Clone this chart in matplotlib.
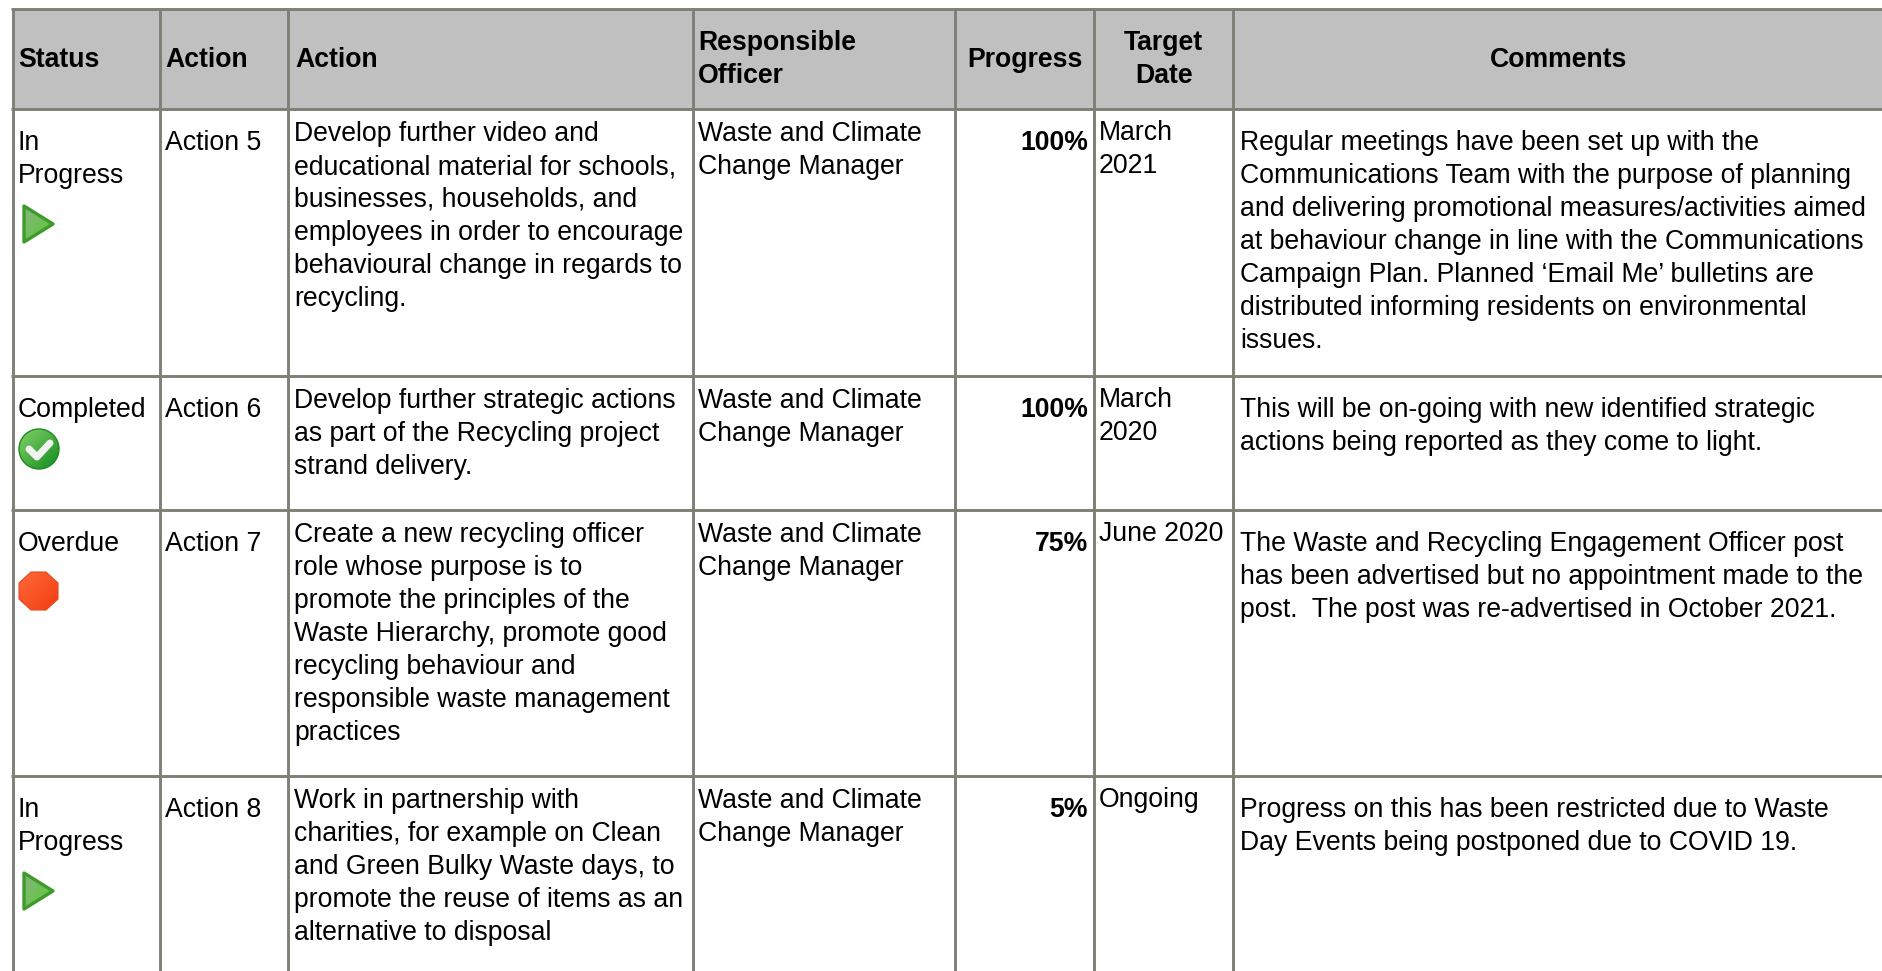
import numpy as np
import matplotlib
matplotlib.use('Agg')
import matplotlib.pyplot as plt
from matplotlib.patches import Polygon, Circle, Rectangle

plt.rcParams['font.family'] = ['Liberation Sans', 'DejaVu Sans']

W, H = 1883, 971
LINE = '#7f7f76'
HEAD = '#c0c0c0'
FS = 19.2
LH = 33

col_edges = [13, 160, 288, 693.5, 955, 1094, 1233.5, 1883]
row_edges = [9, 109, 376, 510, 776, 971]

statuses = [['In', 'Progress'], ['Completed'], ['Overdue'], ['In', 'Progress']]
icons = ['play', 'check', 'stop', 'play']
action_ids = ['Action 5', 'Action 6', 'Action 7', 'Action 8']
actions = [
    ['Develop further video and', 'educational material for schools,', 'businesses, households, and',
     'employees in order to encourage', 'behavioural change in regards to', 'recycling.'],
    ['Develop further strategic actions', 'as part of the Recycling project', 'strand delivery.'],
    ['Create a new recycling officer', 'role whose purpose is to', 'promote the principles of the',
     'Waste Hierarchy, promote good', 'recycling behaviour and', 'responsible waste management', 'practices'],
    ['Work in partnership with', 'charities, for example on Clean', 'and Green Bulky Waste days, to',
     'promote the reuse of items as an', 'alternative to disposal'],
]
officers = [['Waste and Climate', 'Change Manager']] * 4
progress = ['100%', '100%', '75%', '5%']
targets = [['March', '2021'], ['March', '2020'], ['June 2020'], ['Ongoing']]
comments = [
    ['Regular meetings have been set up with the', 'Communications Team with the purpose of planning',
     'and delivering promotional measures/activities aimed', 'at behaviour change in line with the Communications',
     'Campaign Plan. Planned \u2018Email Me\u2019 bulletins are', 'distributed informing residents on environmental', 'issues.'],
    ['This will be on-going with new identified strategic', 'actions being reported as they come to light.'],
    ['The Waste and Recycling Engagement Officer post', 'has been advertised but no appointment made to the',
     'post.  The post was re-advertised in October 2021.'],
    ['Progress on this has been restricted due to Waste', 'Day Events being postponed due to COVID 19.'],
]


def write(ax, x, y, lines, **kw):
    for i, s in enumerate(lines):
        ax.text(x, y + i * LH, s, fontsize=FS, fontweight=kw.get('weight', 'normal'),
                ha=kw.get('ha', 'left'), va='baseline', color='black')


def gradient(ax, patch, x0, x1, y0, y1, c0, c1):
    # diagonal fill, clipped to the patch
    n = 40
    t = np.add.outer(np.linspace(0, 1, n), np.linspace(0, 1, n)) / 2
    c0, c1 = np.array(matplotlib.colors.to_rgb(c0)), np.array(matplotlib.colors.to_rgb(c1))
    img = c0 + (c1 - c0) * t[..., None]
    im = ax.imshow(img, extent=(x0, x1, y1, y0), aspect='auto', zorder=4, interpolation='bilinear')
    im.set_clip_path(patch)


def draw_icon(ax, kind, y):
    if kind == 'play':
        tri = Polygon([(24, y + 2), (24, y + 38), (53, y + 20)], closed=True, fc='none',
                      ec='#3f9a2c', lw=2.4, joinstyle='round', zorder=5)
        ax.add_patch(tri)
        gradient(ax, tri, 22, 54, y, y + 40, '#8fb088', '#52cf2a')
    elif kind == 'check':
        c = Circle((39, y + 20), 20, fc='none', ec='#1d8a24', lw=1, zorder=5)
        ax.add_patch(c)
        gradient(ax, c, 19, 59, y, y + 40, '#86d468', '#0f8a1f')
        ax.plot([29, 37, 50], [y + 20, y + 28, y + 14], color='#f2f2f2', lw=5,
                solid_capstyle='round', solid_joinstyle='round', zorder=6)
    else:
        xs = np.array([31, 46, 58, 58, 46, 31, 19, 19])
        ys = np.array([0, 0, 11, 27, 38, 38, 27, 11]) + y
        o = Polygon(np.column_stack([xs, ys]), closed=True, fc='none', ec='#e04a20', lw=0.8,
                    joinstyle='round', zorder=5)
        ax.add_patch(o)
        gradient(ax, o, 19, 58, y, y + 38, '#ff6a3a', '#f23d10')


fig = plt.figure(figsize=(W / 100, H / 100), dpi=100)
ax = fig.add_axes([0, 0, 1, 1])
ax.set_axis_off()

ax.add_patch(Rectangle((col_edges[0], row_edges[0]), W - col_edges[0], row_edges[1] - row_edges[0],
                       fc=HEAD, ec='none', zorder=0))
for x in col_edges[:-1]:
    ax.plot([x, x], [row_edges[0], H], color=LINE, lw=2.1, solid_capstyle='butt', zorder=2)
for y in row_edges[:-1]:
    ax.plot([col_edges[0] - 2, W], [y, y], color=LINE, lw=2.1, solid_capstyle='butt', zorder=2)

# header
write(ax, 18, 67, ['Status'], weight='bold')
write(ax, 165, 67, ['Action'], weight='bold')
write(ax, 295, 67, ['Action'], weight='bold')
write(ax, 698, 50, ['Responsible', 'Officer'], weight='bold')
write(ax, (col_edges[4] + col_edges[5]) / 2, 67, ['Progress'], weight='bold', ha='center')
write(ax, (col_edges[5] + col_edges[6]) / 2, 50, ['Target', 'Date'], weight='bold', ha='center')
write(ax, (col_edges[6] + col_edges[7]) / 2, 67, ['Comments'], weight='bold', ha='center')

# body
for r in range(4):
    top = row_edges[r + 1]
    write(ax, 18, top + 41, statuses[r])
    write(ax, 165, top + 41, [action_ids[r]])
    write(ax, 294, top + 32, actions[r])
    write(ax, 698, top + 32, officers[r])
    write(ax, 1088, top + 41, [progress[r]], weight='bold', ha='right')
    write(ax, 1099, top + 31, targets[r])
    write(ax, 1240, top + 41, comments[r])
    icon_y = top + 41 + (len(statuses[r]) - 1) * LH + (21 if icons[r] == 'play' else 12 if icons[r] == 'check' else 21)
    draw_icon(ax, icons[r], icon_y)

ax.set_xlim(0, W)
ax.set_ylim(H, 0)
fig.savefig('out.png', dpi=100, facecolor='white')
